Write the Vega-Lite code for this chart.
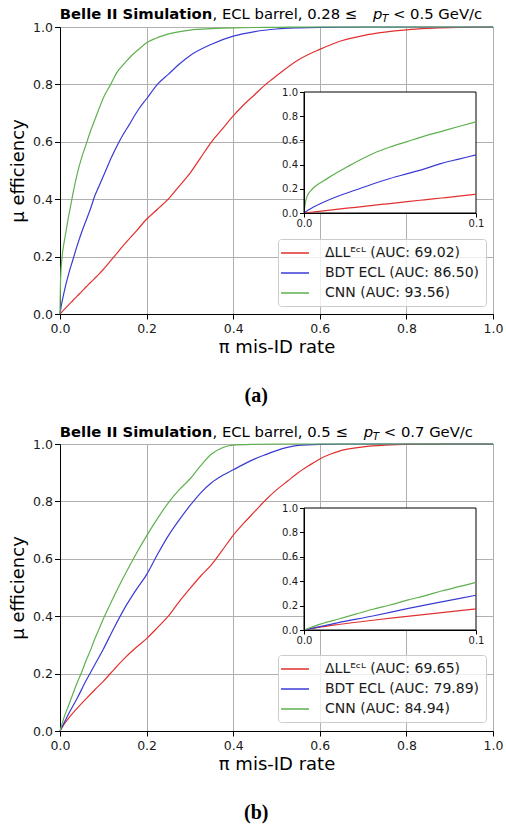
{
  "$schema": "https://vega.github.io/schema/vega-lite/v6.json",
  "background": "white",
  "padding": {"left": 9, "top": 6, "right": 8, "bottom": 4},
  "spacing": 18,
  "datasets": {
    "a": [
      {"fpr": 0, "eff": 0, "label": "ΔLLᴱᶜᴸ (AUC: 69.02)"},
      {"fpr": 0.01, "eff": 0.016, "label": "ΔLLᴱᶜᴸ (AUC: 69.02)"},
      {"fpr": 0.02, "eff": 0.032, "label": "ΔLLᴱᶜᴸ (AUC: 69.02)"},
      {"fpr": 0.03, "eff": 0.047, "label": "ΔLLᴱᶜᴸ (AUC: 69.02)"},
      {"fpr": 0.04, "eff": 0.063, "label": "ΔLLᴱᶜᴸ (AUC: 69.02)"},
      {"fpr": 0.05, "eff": 0.078, "label": "ΔLLᴱᶜᴸ (AUC: 69.02)"},
      {"fpr": 0.06, "eff": 0.094, "label": "ΔLLᴱᶜᴸ (AUC: 69.02)"},
      {"fpr": 0.07, "eff": 0.109, "label": "ΔLLᴱᶜᴸ (AUC: 69.02)"},
      {"fpr": 0.08, "eff": 0.124, "label": "ΔLLᴱᶜᴸ (AUC: 69.02)"},
      {"fpr": 0.09, "eff": 0.139, "label": "ΔLLᴱᶜᴸ (AUC: 69.02)"},
      {"fpr": 0.1, "eff": 0.155, "label": "ΔLLᴱᶜᴸ (AUC: 69.02)"},
      {"fpr": 0.125, "eff": 0.2, "label": "ΔLLᴱᶜᴸ (AUC: 69.02)"},
      {"fpr": 0.15, "eff": 0.245, "label": "ΔLLᴱᶜᴸ (AUC: 69.02)"},
      {"fpr": 0.175, "eff": 0.287, "label": "ΔLLᴱᶜᴸ (AUC: 69.02)"},
      {"fpr": 0.2, "eff": 0.33, "label": "ΔLLᴱᶜᴸ (AUC: 69.02)"},
      {"fpr": 0.225, "eff": 0.365, "label": "ΔLLᴱᶜᴸ (AUC: 69.02)"},
      {"fpr": 0.25, "eff": 0.4, "label": "ΔLLᴱᶜᴸ (AUC: 69.02)"},
      {"fpr": 0.275, "eff": 0.445, "label": "ΔLLᴱᶜᴸ (AUC: 69.02)"},
      {"fpr": 0.3, "eff": 0.49, "label": "ΔLLᴱᶜᴸ (AUC: 69.02)"},
      {"fpr": 0.325, "eff": 0.545, "label": "ΔLLᴱᶜᴸ (AUC: 69.02)"},
      {"fpr": 0.35, "eff": 0.6, "label": "ΔLLᴱᶜᴸ (AUC: 69.02)"},
      {"fpr": 0.375, "eff": 0.645, "label": "ΔLLᴱᶜᴸ (AUC: 69.02)"},
      {"fpr": 0.4, "eff": 0.69, "label": "ΔLLᴱᶜᴸ (AUC: 69.02)"},
      {"fpr": 0.425, "eff": 0.73, "label": "ΔLLᴱᶜᴸ (AUC: 69.02)"},
      {"fpr": 0.45, "eff": 0.765, "label": "ΔLLᴱᶜᴸ (AUC: 69.02)"},
      {"fpr": 0.475, "eff": 0.8, "label": "ΔLLᴱᶜᴸ (AUC: 69.02)"},
      {"fpr": 0.5, "eff": 0.83, "label": "ΔLLᴱᶜᴸ (AUC: 69.02)"},
      {"fpr": 0.55, "eff": 0.885, "label": "ΔLLᴱᶜᴸ (AUC: 69.02)"},
      {"fpr": 0.6, "eff": 0.922, "label": "ΔLLᴱᶜᴸ (AUC: 69.02)"},
      {"fpr": 0.65, "eff": 0.952, "label": "ΔLLᴱᶜᴸ (AUC: 69.02)"},
      {"fpr": 0.7, "eff": 0.97, "label": "ΔLLᴱᶜᴸ (AUC: 69.02)"},
      {"fpr": 0.75, "eff": 0.982, "label": "ΔLLᴱᶜᴸ (AUC: 69.02)"},
      {"fpr": 0.8, "eff": 0.99, "label": "ΔLLᴱᶜᴸ (AUC: 69.02)"},
      {"fpr": 0.85, "eff": 0.995, "label": "ΔLLᴱᶜᴸ (AUC: 69.02)"},
      {"fpr": 0.9, "eff": 0.998, "label": "ΔLLᴱᶜᴸ (AUC: 69.02)"},
      {"fpr": 1, "eff": 1, "label": "ΔLLᴱᶜᴸ (AUC: 69.02)"},
      {"fpr": 0, "eff": 0, "label": "BDT ECL (AUC: 86.50)"},
      {"fpr": 0.0025, "eff": 0.025, "label": "BDT ECL (AUC: 86.50)"},
      {"fpr": 0.005, "eff": 0.045, "label": "BDT ECL (AUC: 86.50)"},
      {"fpr": 0.01, "eff": 0.08, "label": "BDT ECL (AUC: 86.50)"},
      {"fpr": 0.02, "eff": 0.14, "label": "BDT ECL (AUC: 86.50)"},
      {"fpr": 0.03, "eff": 0.19, "label": "BDT ECL (AUC: 86.50)"},
      {"fpr": 0.04, "eff": 0.24, "label": "BDT ECL (AUC: 86.50)"},
      {"fpr": 0.05, "eff": 0.285, "label": "BDT ECL (AUC: 86.50)"},
      {"fpr": 0.06, "eff": 0.325, "label": "BDT ECL (AUC: 86.50)"},
      {"fpr": 0.07, "eff": 0.365, "label": "BDT ECL (AUC: 86.50)"},
      {"fpr": 0.08, "eff": 0.41, "label": "BDT ECL (AUC: 86.50)"},
      {"fpr": 0.09, "eff": 0.445, "label": "BDT ECL (AUC: 86.50)"},
      {"fpr": 0.1, "eff": 0.48, "label": "BDT ECL (AUC: 86.50)"},
      {"fpr": 0.12, "eff": 0.55, "label": "BDT ECL (AUC: 86.50)"},
      {"fpr": 0.14, "eff": 0.61, "label": "BDT ECL (AUC: 86.50)"},
      {"fpr": 0.16, "eff": 0.66, "label": "BDT ECL (AUC: 86.50)"},
      {"fpr": 0.18, "eff": 0.71, "label": "BDT ECL (AUC: 86.50)"},
      {"fpr": 0.2, "eff": 0.75, "label": "BDT ECL (AUC: 86.50)"},
      {"fpr": 0.225, "eff": 0.8, "label": "BDT ECL (AUC: 86.50)"},
      {"fpr": 0.25, "eff": 0.835, "label": "BDT ECL (AUC: 86.50)"},
      {"fpr": 0.275, "eff": 0.87, "label": "BDT ECL (AUC: 86.50)"},
      {"fpr": 0.3, "eff": 0.9, "label": "BDT ECL (AUC: 86.50)"},
      {"fpr": 0.35, "eff": 0.94, "label": "BDT ECL (AUC: 86.50)"},
      {"fpr": 0.4, "eff": 0.968, "label": "BDT ECL (AUC: 86.50)"},
      {"fpr": 0.45, "eff": 0.984, "label": "BDT ECL (AUC: 86.50)"},
      {"fpr": 0.5, "eff": 0.993, "label": "BDT ECL (AUC: 86.50)"},
      {"fpr": 0.55, "eff": 0.997, "label": "BDT ECL (AUC: 86.50)"},
      {"fpr": 0.6, "eff": 0.999, "label": "BDT ECL (AUC: 86.50)"},
      {"fpr": 0.7, "eff": 1, "label": "BDT ECL (AUC: 86.50)"},
      {"fpr": 1, "eff": 1, "label": "BDT ECL (AUC: 86.50)"},
      {"fpr": 0, "eff": 0, "label": "CNN (AUC: 93.56)"},
      {"fpr": 0.0005, "eff": 0.06, "label": "CNN (AUC: 93.56)"},
      {"fpr": 0.001, "eff": 0.1, "label": "CNN (AUC: 93.56)"},
      {"fpr": 0.002, "eff": 0.145, "label": "CNN (AUC: 93.56)"},
      {"fpr": 0.004, "eff": 0.185, "label": "CNN (AUC: 93.56)"},
      {"fpr": 0.006, "eff": 0.215, "label": "CNN (AUC: 93.56)"},
      {"fpr": 0.009, "eff": 0.245, "label": "CNN (AUC: 93.56)"},
      {"fpr": 0.013, "eff": 0.28, "label": "CNN (AUC: 93.56)"},
      {"fpr": 0.018, "eff": 0.325, "label": "CNN (AUC: 93.56)"},
      {"fpr": 0.025, "eff": 0.38, "label": "CNN (AUC: 93.56)"},
      {"fpr": 0.03, "eff": 0.42, "label": "CNN (AUC: 93.56)"},
      {"fpr": 0.04, "eff": 0.49, "label": "CNN (AUC: 93.56)"},
      {"fpr": 0.05, "eff": 0.545, "label": "CNN (AUC: 93.56)"},
      {"fpr": 0.06, "eff": 0.59, "label": "CNN (AUC: 93.56)"},
      {"fpr": 0.07, "eff": 0.635, "label": "CNN (AUC: 93.56)"},
      {"fpr": 0.08, "eff": 0.675, "label": "CNN (AUC: 93.56)"},
      {"fpr": 0.09, "eff": 0.715, "label": "CNN (AUC: 93.56)"},
      {"fpr": 0.1, "eff": 0.753, "label": "CNN (AUC: 93.56)"},
      {"fpr": 0.117, "eff": 0.8, "label": "CNN (AUC: 93.56)"},
      {"fpr": 0.132, "eff": 0.843, "label": "CNN (AUC: 93.56)"},
      {"fpr": 0.15, "eff": 0.875, "label": "CNN (AUC: 93.56)"},
      {"fpr": 0.165, "eff": 0.9, "label": "CNN (AUC: 93.56)"},
      {"fpr": 0.18, "eff": 0.92, "label": "CNN (AUC: 93.56)"},
      {"fpr": 0.2, "eff": 0.945, "label": "CNN (AUC: 93.56)"},
      {"fpr": 0.22, "eff": 0.96, "label": "CNN (AUC: 93.56)"},
      {"fpr": 0.24, "eff": 0.971, "label": "CNN (AUC: 93.56)"},
      {"fpr": 0.27, "eff": 0.982, "label": "CNN (AUC: 93.56)"},
      {"fpr": 0.3, "eff": 0.989, "label": "CNN (AUC: 93.56)"},
      {"fpr": 0.35, "eff": 0.994, "label": "CNN (AUC: 93.56)"},
      {"fpr": 0.4, "eff": 0.997, "label": "CNN (AUC: 93.56)"},
      {"fpr": 0.5, "eff": 0.999, "label": "CNN (AUC: 93.56)"},
      {"fpr": 0.6, "eff": 1, "label": "CNN (AUC: 93.56)"},
      {"fpr": 1, "eff": 1, "label": "CNN (AUC: 93.56)"}
    ],
    "b": [
      {"fpr": 0, "eff": 0, "label": "ΔLLᴱᶜᴸ (AUC: 69.65)"},
      {"fpr": 0.01, "eff": 0.025, "label": "ΔLLᴱᶜᴸ (AUC: 69.65)"},
      {"fpr": 0.02, "eff": 0.045, "label": "ΔLLᴱᶜᴸ (AUC: 69.65)"},
      {"fpr": 0.04, "eff": 0.08, "label": "ΔLLᴱᶜᴸ (AUC: 69.65)"},
      {"fpr": 0.06, "eff": 0.112, "label": "ΔLLᴱᶜᴸ (AUC: 69.65)"},
      {"fpr": 0.08, "eff": 0.143, "label": "ΔLLᴱᶜᴸ (AUC: 69.65)"},
      {"fpr": 0.1, "eff": 0.173, "label": "ΔLLᴱᶜᴸ (AUC: 69.65)"},
      {"fpr": 0.125, "eff": 0.215, "label": "ΔLLᴱᶜᴸ (AUC: 69.65)"},
      {"fpr": 0.15, "eff": 0.255, "label": "ΔLLᴱᶜᴸ (AUC: 69.65)"},
      {"fpr": 0.175, "eff": 0.29, "label": "ΔLLᴱᶜᴸ (AUC: 69.65)"},
      {"fpr": 0.2, "eff": 0.322, "label": "ΔLLᴱᶜᴸ (AUC: 69.65)"},
      {"fpr": 0.225, "eff": 0.36, "label": "ΔLLᴱᶜᴸ (AUC: 69.65)"},
      {"fpr": 0.25, "eff": 0.4, "label": "ΔLLᴱᶜᴸ (AUC: 69.65)"},
      {"fpr": 0.275, "eff": 0.45, "label": "ΔLLᴱᶜᴸ (AUC: 69.65)"},
      {"fpr": 0.3, "eff": 0.496, "label": "ΔLLᴱᶜᴸ (AUC: 69.65)"},
      {"fpr": 0.325, "eff": 0.54, "label": "ΔLLᴱᶜᴸ (AUC: 69.65)"},
      {"fpr": 0.35, "eff": 0.58, "label": "ΔLLᴱᶜᴸ (AUC: 69.65)"},
      {"fpr": 0.375, "eff": 0.63, "label": "ΔLLᴱᶜᴸ (AUC: 69.65)"},
      {"fpr": 0.4, "eff": 0.682, "label": "ΔLLᴱᶜᴸ (AUC: 69.65)"},
      {"fpr": 0.425, "eff": 0.725, "label": "ΔLLᴱᶜᴸ (AUC: 69.65)"},
      {"fpr": 0.45, "eff": 0.765, "label": "ΔLLᴱᶜᴸ (AUC: 69.65)"},
      {"fpr": 0.475, "eff": 0.805, "label": "ΔLLᴱᶜᴸ (AUC: 69.65)"},
      {"fpr": 0.5, "eff": 0.84, "label": "ΔLLᴱᶜᴸ (AUC: 69.65)"},
      {"fpr": 0.525, "eff": 0.87, "label": "ΔLLᴱᶜᴸ (AUC: 69.65)"},
      {"fpr": 0.55, "eff": 0.9, "label": "ΔLLᴱᶜᴸ (AUC: 69.65)"},
      {"fpr": 0.575, "eff": 0.925, "label": "ΔLLᴱᶜᴸ (AUC: 69.65)"},
      {"fpr": 0.6, "eff": 0.948, "label": "ΔLLᴱᶜᴸ (AUC: 69.65)"},
      {"fpr": 0.625, "eff": 0.965, "label": "ΔLLᴱᶜᴸ (AUC: 69.65)"},
      {"fpr": 0.65, "eff": 0.978, "label": "ΔLLᴱᶜᴸ (AUC: 69.65)"},
      {"fpr": 0.7, "eff": 0.99, "label": "ΔLLᴱᶜᴸ (AUC: 69.65)"},
      {"fpr": 0.75, "eff": 0.996, "label": "ΔLLᴱᶜᴸ (AUC: 69.65)"},
      {"fpr": 0.8, "eff": 0.999, "label": "ΔLLᴱᶜᴸ (AUC: 69.65)"},
      {"fpr": 0.9, "eff": 1, "label": "ΔLLᴱᶜᴸ (AUC: 69.65)"},
      {"fpr": 1, "eff": 1, "label": "ΔLLᴱᶜᴸ (AUC: 69.65)"},
      {"fpr": 0, "eff": 0, "label": "BDT ECL (AUC: 79.89)"},
      {"fpr": 0.01, "eff": 0.03, "label": "BDT ECL (AUC: 79.89)"},
      {"fpr": 0.02, "eff": 0.06, "label": "BDT ECL (AUC: 79.89)"},
      {"fpr": 0.04, "eff": 0.115, "label": "BDT ECL (AUC: 79.89)"},
      {"fpr": 0.06, "eff": 0.175, "label": "BDT ECL (AUC: 79.89)"},
      {"fpr": 0.08, "eff": 0.23, "label": "BDT ECL (AUC: 79.89)"},
      {"fpr": 0.1, "eff": 0.285, "label": "BDT ECL (AUC: 79.89)"},
      {"fpr": 0.125, "eff": 0.36, "label": "BDT ECL (AUC: 79.89)"},
      {"fpr": 0.15, "eff": 0.43, "label": "BDT ECL (AUC: 79.89)"},
      {"fpr": 0.175, "eff": 0.49, "label": "BDT ECL (AUC: 79.89)"},
      {"fpr": 0.2, "eff": 0.545, "label": "BDT ECL (AUC: 79.89)"},
      {"fpr": 0.225, "eff": 0.615, "label": "BDT ECL (AUC: 79.89)"},
      {"fpr": 0.25, "eff": 0.68, "label": "BDT ECL (AUC: 79.89)"},
      {"fpr": 0.275, "eff": 0.735, "label": "BDT ECL (AUC: 79.89)"},
      {"fpr": 0.3, "eff": 0.785, "label": "BDT ECL (AUC: 79.89)"},
      {"fpr": 0.325, "eff": 0.83, "label": "BDT ECL (AUC: 79.89)"},
      {"fpr": 0.35, "eff": 0.865, "label": "BDT ECL (AUC: 79.89)"},
      {"fpr": 0.375, "eff": 0.89, "label": "BDT ECL (AUC: 79.89)"},
      {"fpr": 0.4, "eff": 0.91, "label": "BDT ECL (AUC: 79.89)"},
      {"fpr": 0.425, "eff": 0.93, "label": "BDT ECL (AUC: 79.89)"},
      {"fpr": 0.45, "eff": 0.948, "label": "BDT ECL (AUC: 79.89)"},
      {"fpr": 0.475, "eff": 0.963, "label": "BDT ECL (AUC: 79.89)"},
      {"fpr": 0.5, "eff": 0.977, "label": "BDT ECL (AUC: 79.89)"},
      {"fpr": 0.525, "eff": 0.988, "label": "BDT ECL (AUC: 79.89)"},
      {"fpr": 0.55, "eff": 0.995, "label": "BDT ECL (AUC: 79.89)"},
      {"fpr": 0.6, "eff": 0.999, "label": "BDT ECL (AUC: 79.89)"},
      {"fpr": 0.65, "eff": 1, "label": "BDT ECL (AUC: 79.89)"},
      {"fpr": 1, "eff": 1, "label": "BDT ECL (AUC: 79.89)"},
      {"fpr": 0, "eff": 0, "label": "CNN (AUC: 84.94)"},
      {"fpr": 0.01, "eff": 0.05, "label": "CNN (AUC: 84.94)"},
      {"fpr": 0.02, "eff": 0.09, "label": "CNN (AUC: 84.94)"},
      {"fpr": 0.03, "eff": 0.13, "label": "CNN (AUC: 84.94)"},
      {"fpr": 0.04, "eff": 0.17, "label": "CNN (AUC: 84.94)"},
      {"fpr": 0.05, "eff": 0.205, "label": "CNN (AUC: 84.94)"},
      {"fpr": 0.06, "eff": 0.245, "label": "CNN (AUC: 84.94)"},
      {"fpr": 0.07, "eff": 0.28, "label": "CNN (AUC: 84.94)"},
      {"fpr": 0.08, "eff": 0.32, "label": "CNN (AUC: 84.94)"},
      {"fpr": 0.09, "eff": 0.355, "label": "CNN (AUC: 84.94)"},
      {"fpr": 0.1, "eff": 0.39, "label": "CNN (AUC: 84.94)"},
      {"fpr": 0.125, "eff": 0.47, "label": "CNN (AUC: 84.94)"},
      {"fpr": 0.15, "eff": 0.545, "label": "CNN (AUC: 84.94)"},
      {"fpr": 0.175, "eff": 0.615, "label": "CNN (AUC: 84.94)"},
      {"fpr": 0.2, "eff": 0.68, "label": "CNN (AUC: 84.94)"},
      {"fpr": 0.225, "eff": 0.74, "label": "CNN (AUC: 84.94)"},
      {"fpr": 0.25, "eff": 0.795, "label": "CNN (AUC: 84.94)"},
      {"fpr": 0.275, "eff": 0.84, "label": "CNN (AUC: 84.94)"},
      {"fpr": 0.3, "eff": 0.878, "label": "CNN (AUC: 84.94)"},
      {"fpr": 0.325, "eff": 0.925, "label": "CNN (AUC: 84.94)"},
      {"fpr": 0.35, "eff": 0.965, "label": "CNN (AUC: 84.94)"},
      {"fpr": 0.375, "eff": 0.987, "label": "CNN (AUC: 84.94)"},
      {"fpr": 0.4, "eff": 0.996, "label": "CNN (AUC: 84.94)"},
      {"fpr": 0.45, "eff": 0.999, "label": "CNN (AUC: 84.94)"},
      {"fpr": 0.5, "eff": 1, "label": "CNN (AUC: 84.94)"},
      {"fpr": 1, "eff": 1, "label": "CNN (AUC: 84.94)"}
    ]
  },
  "vconcat": [
    {
      "width": 433,
      "height": 287,
      "title": {"text": "(a)", "orient": "bottom", "anchor": "middle", "frame": "bounds", "offset": 29, "font": "Liberation Serif", "fontSize": 20, "fontWeight": "bold", "color": "black"},
      "resolve": {"scale": {"x": "independent", "y": "independent"}, "axis": {"x": "independent", "y": "independent"}},
      "layer": [
        {
          "layer": [
            {
              "data": {"name": "a"},
              "mark": {"type": "line", "strokeWidth": 1.2, "interpolate": "monotone"},
              "encoding": {
                "x": {"field": "fpr", "type": "quantitative", "scale": {"domain": [0, 1], "nice": false},
                  "axis": {"values": [0, 0.2, 0.4, 0.6, 0.8, 1], "format": ".1f", "title": "π mis-ID rate", "grid": true, "gridColor": "#b0b0b0", "tickSize": 5, "labelFontSize": 12.5, "titleFontSize": 18, "labelPadding": 3, "titlePadding": 4}},
                "y": {"field": "eff", "type": "quantitative", "scale": {"domain": [0, 1], "nice": false},
                  "axis": {"values": [0, 0.2, 0.4, 0.6, 0.8, 1], "format": ".1f", "title": "μ efficiency", "grid": true, "gridColor": "#b0b0b0", "tickSize": 5.5, "labelFontSize": 12.5, "titleFontSize": 18, "labelPadding": 2, "titlePadding": 5}},
                "color": {"field": "label", "type": "nominal",
                  "scale": {"domain": ["ΔLLᴱᶜᴸ (AUC: 69.02)", "BDT ECL (AUC: 86.50)", "CNN (AUC: 93.56)"], "range": ["#e0312f", "#3b3bd4", "#5fb04f"]},
                  "legend": {"orient": "none", "legendX": 218, "legendY": 212, "title": null}}
              }
            },
            {
              "data": {"values": [{}]},
              "mark": {"type": "text", "text": "Belle II Simulation", "fontWeight": "bold", "fontSize": 14.8, "align": "right", "baseline": "alphabetic", "color": "black"},
              "encoding": {"x": {"datum": 0.3515, "type": "quantitative"}, "y": {"datum": 1.027, "type": "quantitative"}}
            },
            {
              "data": {"values": [{}]},
              "mark": {"type": "text", "text": ", ECL barrel, 0.28 ≤ ", "fontSize": 14.8, "align": "left", "baseline": "alphabetic", "color": "black"},
              "encoding": {"x": {"datum": 0.3522, "type": "quantitative"}, "y": {"datum": 1.027, "type": "quantitative"}}
            },
            {
              "data": {"values": [{}]},
              "mark": {"type": "text", "text": "p", "fontStyle": "italic", "fontSize": 14.8, "align": "left", "baseline": "alphabetic", "color": "black"},
              "encoding": {"x": {"datum": 0.7229, "type": "quantitative"}, "y": {"datum": 1.027, "type": "quantitative"}}
            },
            {
              "data": {"values": [{}]},
              "mark": {"type": "text", "text": "T", "fontStyle": "italic", "fontSize": 10.4, "align": "left", "baseline": "alphabetic", "color": "black"},
              "encoding": {"x": {"datum": 0.7436, "type": "quantitative"}, "y": {"datum": 1.0165, "type": "quantitative"}}
            },
            {
              "data": {"values": [{}]},
              "mark": {"type": "text", "text": "< 0.5 GeV/c", "fontSize": 14.8, "align": "left", "baseline": "alphabetic", "color": "black"},
              "encoding": {"x": {"datum": 0.769, "type": "quantitative"}, "y": {"datum": 1.027, "type": "quantitative"}}
            }
          ]
        },
        {
          "layer": [
            {
              "data": {"values": [{}]},
              "mark": {"type": "rect", "fill": "white", "stroke": "black", "strokeWidth": 1},
              "encoding": {
                "x": {"datum": 0, "type": "quantitative", "scale": {"domain": [0, 0.1], "range": [244, 416], "nice": false},
                  "axis": {"orient": "bottom", "offset": -101, "values": [0, 0.1], "format": ".1f", "title": null, "grid": false, "labelFontSize": 10, "tickSize": 4, "labelPadding": 1, "zindex": 1}},
                "x2": {"datum": 0.1},
                "y": {"datum": 0, "type": "quantitative", "scale": {"domain": [0, 1], "range": [186, 65], "nice": false},
                  "axis": {"orient": "left", "offset": -244, "values": [0, 0.2, 0.4, 0.6, 0.8, 1], "format": ".1f", "title": null, "grid": false, "labelFontSize": 10, "tickSize": 4.5, "labelPadding": 2, "zindex": 1}},
                "y2": {"datum": 1}
              }
            },
            {
              "data": {"name": "a"},
              "transform": [{"filter": "datum.fpr <= 0.1"}],
              "mark": {"type": "line", "strokeWidth": 1.2, "interpolate": "monotone"},
              "encoding": {
                "x": {"field": "fpr", "type": "quantitative"},
                "y": {"field": "eff", "type": "quantitative"},
                "color": {"field": "label", "type": "nominal"}
              }
            }
          ]
        }
      ]
    },
    {
      "width": 433,
      "height": 287,
      "title": {"text": "(b)", "orient": "bottom", "anchor": "middle", "frame": "bounds", "offset": 29, "font": "Liberation Serif", "fontSize": 20, "fontWeight": "bold", "color": "black"},
      "resolve": {"scale": {"x": "independent", "y": "independent"}, "axis": {"x": "independent", "y": "independent"}},
      "layer": [
        {
          "layer": [
            {
              "data": {"name": "b"},
              "mark": {"type": "line", "strokeWidth": 1.2, "interpolate": "monotone"},
              "encoding": {
                "x": {"field": "fpr", "type": "quantitative", "scale": {"domain": [0, 1], "nice": false},
                  "axis": {"values": [0, 0.2, 0.4, 0.6, 0.8, 1], "format": ".1f", "title": "π mis-ID rate", "grid": true, "gridColor": "#b0b0b0", "tickSize": 5, "labelFontSize": 12.5, "titleFontSize": 18, "labelPadding": 3, "titlePadding": 4}},
                "y": {"field": "eff", "type": "quantitative", "scale": {"domain": [0, 1], "nice": false},
                  "axis": {"values": [0, 0.2, 0.4, 0.6, 0.8, 1], "format": ".1f", "title": "μ efficiency", "grid": true, "gridColor": "#b0b0b0", "tickSize": 5.5, "labelFontSize": 12.5, "titleFontSize": 18, "labelPadding": 2, "titlePadding": 5}},
                "color": {"field": "label", "type": "nominal",
                  "scale": {"domain": ["ΔLLᴱᶜᴸ (AUC: 69.65)", "BDT ECL (AUC: 79.89)", "CNN (AUC: 84.94)"], "range": ["#e0312f", "#3b3bd4", "#5fb04f"]},
                  "legend": {"orient": "none", "legendX": 218, "legendY": 211, "title": null}}
              }
            },
            {
              "data": {"values": [{}]},
              "mark": {"type": "text", "text": "Belle II Simulation", "fontWeight": "bold", "fontSize": 14.8, "align": "right", "baseline": "alphabetic", "color": "black"},
              "encoding": {"x": {"datum": 0.3515, "type": "quantitative"}, "y": {"datum": 1.026, "type": "quantitative"}}
            },
            {
              "data": {"values": [{}]},
              "mark": {"type": "text", "text": ", ECL barrel, 0.5 ≤ ", "fontSize": 14.8, "align": "left", "baseline": "alphabetic", "color": "black"},
              "encoding": {"x": {"datum": 0.3522, "type": "quantitative"}, "y": {"datum": 1.026, "type": "quantitative"}}
            },
            {
              "data": {"values": [{}]},
              "mark": {"type": "text", "text": "p", "fontStyle": "italic", "fontSize": 14.8, "align": "left", "baseline": "alphabetic", "color": "black"},
              "encoding": {"x": {"datum": 0.7016, "type": "quantitative"}, "y": {"datum": 1.026, "type": "quantitative"}}
            },
            {
              "data": {"values": [{}]},
              "mark": {"type": "text", "text": "T", "fontStyle": "italic", "fontSize": 10.4, "align": "left", "baseline": "alphabetic", "color": "black"},
              "encoding": {"x": {"datum": 0.7224, "type": "quantitative"}, "y": {"datum": 1.0155, "type": "quantitative"}}
            },
            {
              "data": {"values": [{}]},
              "mark": {"type": "text", "text": "< 0.7 GeV/c", "fontSize": 14.8, "align": "left", "baseline": "alphabetic", "color": "black"},
              "encoding": {"x": {"datum": 0.7478, "type": "quantitative"}, "y": {"datum": 1.026, "type": "quantitative"}}
            }
          ]
        },
        {
          "layer": [
            {
              "data": {"values": [{}]},
              "mark": {"type": "rect", "fill": "white", "stroke": "black", "strokeWidth": 1},
              "encoding": {
                "x": {"datum": 0, "type": "quantitative", "scale": {"domain": [0, 0.1], "range": [244, 416], "nice": false},
                  "axis": {"orient": "bottom", "offset": -101, "values": [0, 0.1], "format": ".1f", "title": null, "grid": false, "labelFontSize": 10, "tickSize": 4, "labelPadding": 1, "zindex": 1}},
                "x2": {"datum": 0.1},
                "y": {"datum": 0, "type": "quantitative", "scale": {"domain": [0, 1], "range": [186, 64], "nice": false},
                  "axis": {"orient": "left", "offset": -244, "values": [0, 0.2, 0.4, 0.6, 0.8, 1], "format": ".1f", "title": null, "grid": false, "labelFontSize": 10, "tickSize": 4.5, "labelPadding": 2, "zindex": 1}},
                "y2": {"datum": 1}
              }
            },
            {
              "data": {"name": "b"},
              "transform": [{"filter": "datum.fpr <= 0.1"}],
              "mark": {"type": "line", "strokeWidth": 1.2, "interpolate": "monotone"},
              "encoding": {
                "x": {"field": "fpr", "type": "quantitative"},
                "y": {"field": "eff", "type": "quantitative"},
                "color": {"field": "label", "type": "nominal"}
              }
            }
          ]
        }
      ]
    }
  ],
  "resolve": {"scale": {"color": "independent"}, "legend": {"color": "independent"}},
  "config": {
    "font": "DejaVu Sans",
    "view": {"stroke": "black", "strokeWidth": 1},
    "axis": {"labelFont": "DejaVu Sans", "titleFont": "DejaVu Sans", "labelColor": "#1a1a1a", "titleColor": "black", "domainColor": "black", "tickColor": "black", "titleFontWeight": "normal", "labelFlush": false, "labelOverlap": false},
    "legend": {"fillColor": "rgba(255,255,255,0.8)", "strokeColor": "#cccccc", "cornerRadius": 3, "padding": 6, "labelFont": "DejaVu Sans", "labelFontSize": 14, "labelColor": "#1a1a1a", "labelLimit": 0, "symbolType": "M-2,0H2", "symbolSize": 196, "symbolStrokeWidth": 1.5, "symbolOffset": 3, "labelOffset": 22, "rowPadding": 5}
  }
}
